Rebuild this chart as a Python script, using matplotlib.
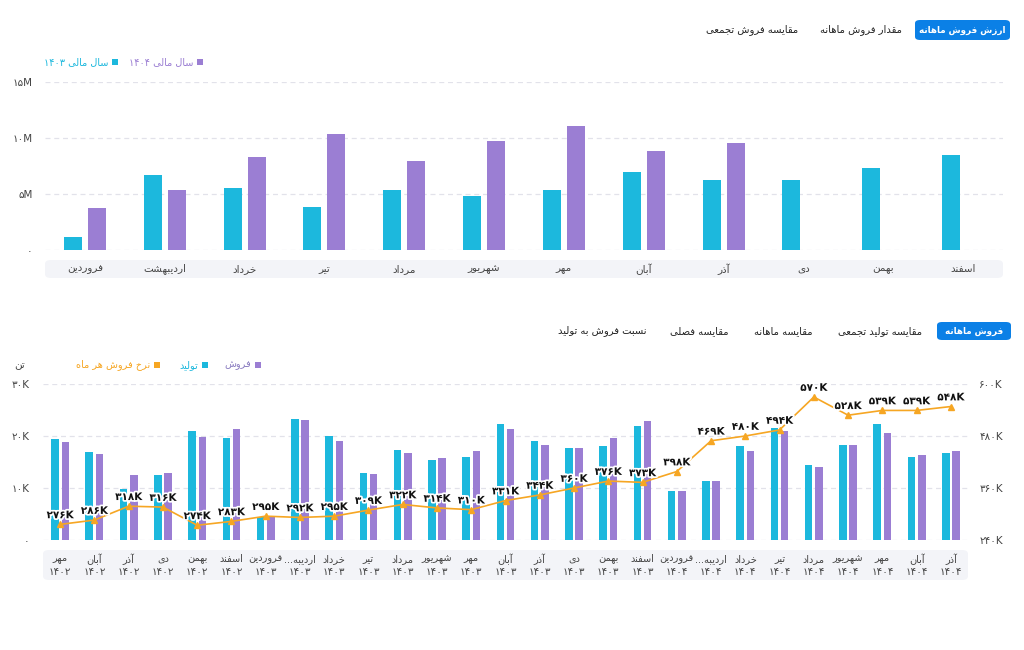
import matplotlib
matplotlib.use('Agg')
import matplotlib.pyplot as plt
import matplotlib.patheffects as pe
from matplotlib.patches import FancyBboxPatch, Rectangle
from matplotlib.transforms import blended_transform_factory
import numpy as np

plt.rcParams['font.family'] = ['DejaVu Sans']

# ---- top chart: monthly sales value (million) ----
months = ['فروردین', 'اردیبهشت', 'خرداد', 'تیر', 'مرداد', 'شهریور',
          'مهر', 'آبان', 'آذر', 'دی', 'بهمن', 'اسفند']
value_1403 = [1.16, 6.7, 5.5, 3.85, 5.36, 4.8, 5.36, 6.97, 6.25, 6.25, 7.3, 8.5]
value_1404 = [3.75, 5.36, 8.3, 10.36, 7.95, 9.7, 11.07, 8.84, 9.55, np.nan, np.nan, np.nan]
top_ticks = [0, 5, 10, 15]
top_tick_labels = ['۰', '۵M', '۱۰M', '۱۵M']

# ---- bottom chart: monthly production / sales (K ton) and rate ----
period_month = ['مهر', 'آبان', 'آذر', 'دی', 'بهمن', 'اسفند',
                'فروردین', 'اردیبه...', 'خرداد', 'تیر', 'مرداد', 'شهریور',
                'مهر', 'آبان', 'آذر', 'دی', 'بهمن', 'اسفند',
                'فروردین', 'اردیبه...', 'خرداد', 'تیر', 'مرداد', 'شهریور',
                'مهر', 'آبان', 'آذر']
period_year = ['۱۴۰۲'] * 6 + ['۱۴۰۳'] * 12 + ['۱۴۰۴'] * 9
production = [19.4, 16.9, 9.9, 12.5, 21.0, 19.7, 4.5, 23.3, 20.0, 12.8, 17.4, 15.4, 16.0, 22.4,
              19.1, 17.6, 18.1, 21.9, 9.4, 11.4, 18.1, 21.5, 14.4, 18.2, 22.3, 16.0, 16.8]
sales = [18.9, 16.5, 12.5, 12.8, 19.9, 21.4, 4.4, 23.1, 19.1, 12.6, 16.8, 15.7, 17.2, 21.3,
         18.3, 17.6, 19.6, 22.8, 9.4, 11.4, 17.2, 21.0, 14.0, 18.3, 20.5, 16.3, 17.2]
rate = [276, 286, 318, 316, 274, 283, 295, 292, 295, 309, 322, 314, 310, 331,
        344, 360, 376, 373, 398, 469, 480, 494, 570, 528, 539, 539, 548]
left_ticks = [0, 10, 20, 30]
left_tick_labels = ['۰', '۱۰K', '۲۰K', '۳۰K']
right_ticks = [240, 360, 480, 600]
right_tick_labels = ['۲۴۰K', '۳۶۰K', '۴۸۰K', '۶۰۰K']

CYAN = '#1cb8dd'
PURPLE = '#9b7ed3'
ORANGE = '#f6a623'
BLUE = '#0b80e6'
BAND = '#f3f4f8'
GRID = '#e2e2ea'
TXT = '#444444'

# ---- minimal Persian shaping (matplotlib has no bidi/shaping) ----
FORMS = {
    'ا': ('\ufe8d', '\ufe8e'), 'آ': ('\ufe81', '\ufe82'),
    'د': ('\ufea9', '\ufeaa'), 'ذ': ('\ufeab', '\ufeac'),
    'ر': ('\ufead', '\ufeae'), 'ز': ('\ufeaf', '\ufeb0'),
    'ژ': ('\ufb8a', '\ufb8b'), 'و': ('\ufeed', '\ufeee'),
    'ب': ('\ufe8f', '\ufe90', '\ufe91', '\ufe92'),
    'پ': ('\ufb56', '\ufb57', '\ufb58', '\ufb59'),
    'ت': ('\ufe95', '\ufe96', '\ufe97', '\ufe98'),
    'ث': ('\ufe99', '\ufe9a', '\ufe9b', '\ufe9c'),
    'ج': ('\ufe9d', '\ufe9e', '\ufe9f', '\ufea0'),
    'چ': ('\ufb7a', '\ufb7b', '\ufb7c', '\ufb7d'),
    'ح': ('\ufea1', '\ufea2', '\ufea3', '\ufea4'),
    'خ': ('\ufea5', '\ufea6', '\ufea7', '\ufea8'),
    'س': ('\ufeb1', '\ufeb2', '\ufeb3', '\ufeb4'),
    'ش': ('\ufeb5', '\ufeb6', '\ufeb7', '\ufeb8'),
    'ص': ('\ufeb9', '\ufeba', '\ufebb', '\ufebc'),
    'ض': ('\ufebd', '\ufebe', '\ufebf', '\ufec0'),
    'ط': ('\ufec1', '\ufec2', '\ufec3', '\ufec4'),
    'ظ': ('\ufec5', '\ufec6', '\ufec7', '\ufec8'),
    'ع': ('\ufec9', '\ufeca', '\ufecb', '\ufecc'),
    'غ': ('\ufecd', '\ufece', '\ufecf', '\ufed0'),
    'ف': ('\ufed1', '\ufed2', '\ufed3', '\ufed4'),
    'ق': ('\ufed5', '\ufed6', '\ufed7', '\ufed8'),
    'ک': ('\ufb8e', '\ufb8f', '\ufb90', '\ufb91'),
    'گ': ('\ufb92', '\ufb93', '\ufb94', '\ufb95'),
    'ل': ('\ufedd', '\ufede', '\ufedf', '\ufee0'),
    'م': ('\ufee1', '\ufee2', '\ufee3', '\ufee4'),
    'ن': ('\ufee5', '\ufee6', '\ufee7', '\ufee8'),
    'ه': ('\ufee9', '\ufeea', '\ufeeb', '\ufeec'),
    'ی': ('\ufbfc', '\ufbfd', '\ufbfe', '\ufbff'),
}


def shape_word(w):
    out = []
    for i, c in enumerate(w):
        if c not in FORMS:
            out.append(c)
            continue
        prev = w[i - 1] if i > 0 else ''
        nxt = w[i + 1] if i + 1 < len(w) else ''
        join_prev = prev in FORMS and len(FORMS[prev]) == 4
        join_next = len(FORMS[c]) == 4 and nxt in FORMS
        f = FORMS[c]
        if join_prev and join_next:
            out.append(f[3])
        elif join_prev:
            out.append(f[1])
        elif join_next:
            out.append(f[2])
        else:
            out.append(f[0])
    return ''.join(out)


def fa(s):
    words = s.split(' ')
    vis = []
    for w in words:
        if any(ch in FORMS for ch in w):
            vis.append(shape_word(w)[::-1])
        else:
            vis.append(w)
    return ' '.join(vis[::-1])


def fa_num(n):
    return str(n).translate(str.maketrans('0123456789', '۰۱۲۳۴۵۶۷۸۹'))


W, H = 1024, 650


def fx(px):
    return px / W


def fy(py):
    return 1 - py / H


def axes_px(x0, y0, x1, y1):
    a = fig.add_axes([fx(x0), fy(y1), (x1 - x0) / W, (y1 - y0) / H])
    a.patch.set_alpha(0)
    return a


def band(x0, y0, x1, y1):
    fig.patches.append(FancyBboxPatch((fx(x0), fy(y1)), (x1 - x0) / W, (y1 - y0) / H,
                                      boxstyle='round,pad=0,rounding_size=0.006',
                                      transform=fig.transFigure, fc=BAND, ec='none', zorder=-1))


def tab_button(x0, y0, x1, y1, label):
    fig.patches.append(FancyBboxPatch((fx(x0), fy(y1)), (x1 - x0) / W, (y1 - y0) / H,
                                      boxstyle='round,pad=0,rounding_size=0.005',
                                      transform=fig.transFigure, fc=BLUE, ec='none', zorder=-1))
    fig.text(fx((x0 + x1) / 2), fy((y0 + y1) / 2), fa(label), color='white', fontsize=6.3,
             fontweight='bold', ha='center', va='center')


def legend_item(xsq, y, color, label, tcolor):
    fig.patches.append(Rectangle((fx(xsq - 3), fy(y + 3)), 6 / W, 6 / H,
                                 transform=fig.transFigure, fc=color, ec='none'))
    fig.text(fx(xsq - 7), fy(y), fa(label), color=tcolor, fontsize=7, ha='right', va='center')


def style_axis(ax, ticks):
    for s in ax.spines.values():
        s.set_visible(False)
    ax.tick_params(length=0, labelsize=7.5, labelcolor=TXT)
    ax.set_xticks([])
    for t in ticks:
        ax.axhline(t, color=GRID, lw=0.9, ls=(0, (4, 3)), zorder=0)


fig = plt.figure(figsize=(W / 100, H / 100), dpi=100)

# ================= top chart =================
tab_button(915, 20, 1010, 40, 'ارزش فروش ماهانه')
fig.text(fx(861), fy(30), fa('مقدار فروش ماهانه'), fontsize=7.2, color='#222', ha='center', va='center')
fig.text(fx(752), fy(30), fa('مقایسه فروش تجمعی'), fontsize=7.2, color='#222', ha='center', va='center')

legend_item(200, 62, PURPLE, 'سال مالی ۱۴۰۴', PURPLE)
legend_item(115, 62, CYAN, 'سال مالی ۱۴۰۳', CYAN)

ax1 = axes_px(45, 82, 1003, 250)
x = np.arange(len(months))
ax1.bar(x - 0.15, value_1403, width=0.225, color=CYAN, zorder=2)
ax1.bar(x + 0.15, value_1404, width=0.225, color=PURPLE, zorder=2)
ax1.set_xlim(-0.5, len(months) - 0.5)
ax1.set_ylim(0, 15)
style_axis(ax1, top_ticks)
ax1.set_yticks(top_ticks, top_tick_labels)
ax1.tick_params(axis='y', pad=9)

band(45, 260, 1003, 278)
tr1 = blended_transform_factory(ax1.transData, fig.transFigure)
for i, m in enumerate(months):
    ax1.text(i, fy(269), fa(m), transform=tr1, fontsize=7.5, color=TXT, ha='center', va='center')

# ================= bottom chart =================
tab_button(937, 322, 1011, 340, 'فروش ماهانه')
for cx, lab in [(880, 'مقایسه تولید تجمعی'), (783, 'مقایسه ماهانه'),
                (699, 'مقایسه فصلی'), (602, 'نسبت فروش به تولید')]:
    fig.text(fx(cx), fy(331), fa(lab), fontsize=7.2, color='#222', ha='center', va='center')

legend_item(258, 365, PURPLE, 'فروش', '#8a7cc0')
legend_item(205, 365, CYAN, 'تولید', CYAN)
legend_item(157, 365, ORANGE, 'نرخ فروش هر ماه', ORANGE)
fig.text(fx(20), fy(365), fa('تن'), fontsize=7.5, color=TXT, ha='center', va='center')

ax2 = axes_px(43, 384, 968, 540)
x2 = np.arange(len(period_month))
ax2.bar(x2 - 0.15, production, width=0.22, color=CYAN, zorder=2)
ax2.bar(x2 + 0.15, sales, width=0.22, color=PURPLE, zorder=2)
ax2.set_xlim(-0.5, len(period_month) - 0.5)
ax2.set_ylim(0, 30)
style_axis(ax2, left_ticks)
ax2.set_yticks(left_ticks, left_tick_labels)
ax2.tick_params(axis='y', pad=10)

ax3 = ax2.twinx()
ax3.patch.set_alpha(0)
for s in ax3.spines.values():
    s.set_visible(False)
ax3.set_ylim(240, 600)
ax3.set_yticks(right_ticks, right_tick_labels)
ax3.tick_params(length=0, labelsize=7.5, labelcolor=TXT, pad=8)
ax3.plot(x2, rate, color=ORANGE, lw=1.2, marker='^', ms=5, mec=ORANGE, mfc=ORANGE, zorder=3)
halo = [pe.withStroke(linewidth=2.5, foreground='white')]
for i, v in enumerate(rate):
    ax3.annotate(fa_num(v) + 'K', (i, v), xytext=(0, 3), textcoords='offset points',
                 ha='center', va='bottom', fontsize=7.5, fontweight='bold', color='#111',
                 path_effects=halo, zorder=4)

band(43, 550, 968, 580)
tr2 = blended_transform_factory(ax2.transData, fig.transFigure)
for i, (m, yv) in enumerate(zip(period_month, period_year)):
    ax2.text(i, fy(559), fa(m), transform=tr2, fontsize=7, color=TXT, ha='center', va='center')
    ax2.text(i, fy(572), yv, transform=tr2, fontsize=7.5, color=TXT, ha='center', va='center')

fig.savefig('out.png', dpi=100)
